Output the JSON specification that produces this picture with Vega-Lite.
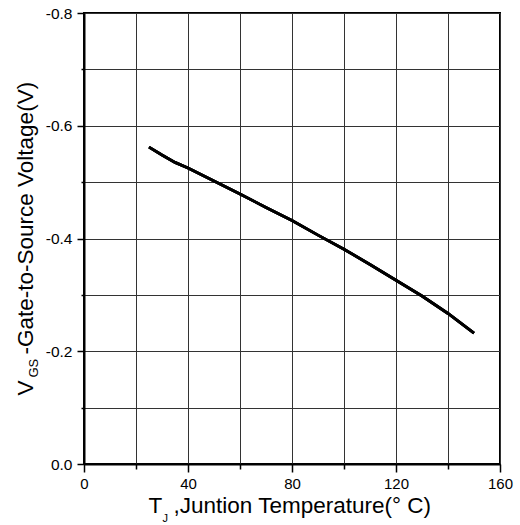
{
  "$schema": "https://vega.github.io/schema/vega-lite/v6.json",
  "width": 416,
  "height": 451,
  "autosize": "none",
  "padding": {"left": 84, "top": 13, "right": 20, "bottom": 61},
  "background": "white",
  "config": {
    "view": {"stroke": "black", "strokeWidth": 2},
    "axis": {
      "labelFont": "Liberation Sans",
      "titleFont": "Liberation Sans",
      "titleFontWeight": "normal",
      "labelColor": "black",
      "titleColor": "black",
      "tickColor": "black",
      "domainColor": "black",
      "domainWidth": 2,
      "tickWidth": 1.5,
      "gridColor": "#333333",
      "gridWidth": 1,
      "gridOpacity": 1,
      "labelFontSize": 15.5,
      "titleFontSize": 22.5
    }
  },
  "data": {
    "values": [
      {"t": 25, "v": -0.562},
      {"t": 30, "v": -0.548},
      {"t": 35, "v": -0.535},
      {"t": 40, "v": -0.525},
      {"t": 50, "v": -0.502},
      {"t": 60, "v": -0.479},
      {"t": 70, "v": -0.455},
      {"t": 80, "v": -0.432},
      {"t": 90, "v": -0.406},
      {"t": 100, "v": -0.381},
      {"t": 110, "v": -0.354},
      {"t": 120, "v": -0.326},
      {"t": 130, "v": -0.298},
      {"t": 140, "v": -0.267},
      {"t": 150, "v": -0.232}
    ]
  },
  "layer": [
    {
      "mark": {"type": "line", "color": "black", "strokeWidth": 2.8},
      "encoding": {
        "x": {
          "field": "t", "type": "quantitative",
          "scale": {"domain": [0, 160], "nice": false, "zero": false},
          "axis": {
            "orient": "bottom",
            "values": [0, 40, 80, 120, 160],
            "grid": true,
            "tickSize": 8,
            "labelPadding": 4,
            "labelFontSize": 15,
            "labelFlush": false,
            "format": "d",
            "title": "T",
            "titleX": 64,
            "titleY": 48,
            "titleAlign": "left",
            "titleBaseline": "alphabetic"
          }
        },
        "y": {
          "field": "v", "type": "quantitative",
          "scale": {"domain": [-0.8, 0], "nice": false, "zero": false, "reverse": true},
          "axis": {
            "orient": "left",
            "values": [0, -0.2, -0.4, -0.6, -0.8],
            "grid": true,
            "tickSize": 7,
            "labelPadding": 5,
            "labelFlush": false,
            "labelExpr": "replace(format(datum.value, '.1f'), '\u2212', '-')",
            "title": "V",
            "titleAngle": -90,
            "titleX": -52,
            "titleY": 382,
            "titleAlign": "left",
            "titleBaseline": "alphabetic"
          }
        }
      }
    },
    {
      "mark": {"type": "line", "color": "black", "strokeWidth": 2.8},
      "encoding": {
        "x": {
          "field": "t", "type": "quantitative",
          "axis": {
            "orient": "bottom",
            "values": [20, 60, 100, 140],
            "grid": true,
            "domain": false,
            "labels": false,
            "tickSize": 5,
            "title": "J",
            "titleFontSize": 11,
            "titleX": 78,
            "titleY": 57,
            "titleAlign": "left",
            "titleBaseline": "alphabetic"
          }
        },
        "y": {
          "field": "v", "type": "quantitative",
          "axis": {
            "orient": "left",
            "values": [-0.1, -0.3, -0.5, -0.7],
            "grid": true,
            "domain": false,
            "labels": false,
            "tickSize": 3,
            "title": "GS",
            "titleFontSize": 13,
            "titleAngle": -90,
            "titleX": -47,
            "titleY": 364,
            "titleAlign": "left",
            "titleBaseline": "alphabetic"
          }
        }
      }
    },
    {
      "mark": {"type": "line", "color": "black", "strokeWidth": 2.8},
      "encoding": {
        "x": {
          "field": "t", "type": "quantitative",
          "axis": {
            "orient": "bottom",
            "values": [],
            "grid": false,
            "domain": false,
            "labels": false,
            "ticks": false,
            "title": ",Juntion Temperature(°  C)",
            "titleX": 89,
            "titleY": 48,
            "titleAlign": "left",
            "titleBaseline": "alphabetic"
          }
        },
        "y": {
          "field": "v", "type": "quantitative",
          "axis": {
            "orient": "left",
            "values": [],
            "grid": false,
            "domain": false,
            "labels": false,
            "ticks": false,
            "title": "-Gate-to-Source Voltage(V)",
            "titleAngle": -90,
            "titleX": -52,
            "titleY": 341,
            "titleAlign": "left",
            "titleBaseline": "alphabetic"
          }
        }
      }
    }
  ],
  "resolve": {"axis": {"x": "independent", "y": "independent"}}
}
